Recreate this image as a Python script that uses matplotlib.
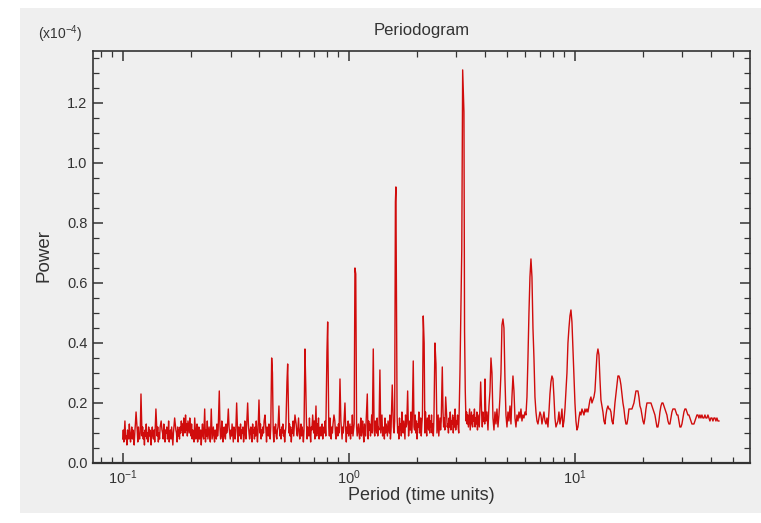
import numpy as np
import matplotlib.pyplot as plt
from matplotlib.patches import Rectangle
from matplotlib.ticker import MultipleLocator, LogLocator, NullFormatter, FormatStrFormatter

plt.rcParams['font.family'] = ['Liberation Sans', 'DejaVu Sans']
plt.rcParams['mathtext.fontset'] = 'custom'
plt.rcParams['mathtext.rm'] = 'Liberation Sans'
plt.rcParams['mathtext.it'] = 'Liberation Sans:italic'
plt.rcParams['mathtext.bf'] = 'Liberation Sans:bold'

# all powers are in units of 0.01 x 10^-4

# dense background band, log-evenly sampled from 0.1 to 4.0
noise_start, noise_end = 0.1, 4.0
noise_power = [
    8, 11, 7, 10, 12, 8, 9, 6, 11, 10, 8, 13, 9, 7, 10, 12, 8, 11, 9, 6, 10, 13, 8, 9, 11, 7, 12, 9, 8, 10,
    11, 7, 9, 12, 8, 10, 6, 11, 9, 13, 8, 10, 7, 12, 9, 11, 8, 6, 10, 12, 9, 8, 11, 7, 13, 10, 8, 9, 12, 7,
    10, 8, 12, 9, 6, 11, 10, 8, 13, 9, 7, 11, 10, 12, 8, 9, 14, 7, 10, 11, 8, 12, 9, 6, 10, 13, 9, 8, 11, 10,
    7, 12, 9, 11, 8, 12, 10, 14, 11, 13, 9, 15, 12, 10, 16, 11, 13, 9, 14, 12, 10, 15, 11, 9, 13, 8, 11, 10, 7, 12,
    9, 8, 11, 13, 7, 10, 12, 8, 9, 11, 6, 10, 13, 9, 8, 12, 10, 7, 11, 9, 14, 8, 10, 12, 9, 7, 11, 13, 8, 10,
    12, 9, 7, 11, 10, 8, 13, 9, 11, 6, 10, 12, 8, 9, 14, 10, 7, 11, 12, 9, 8, 13, 10, 11, 7, 9, 12, 10, 8, 11,
    9, 13, 10, 7, 12, 11, 8, 10, 14, 9, 11, 7, 12, 10, 9, 13, 8, 11, 10, 12, 7, 9, 14, 10, 8, 12, 11, 9, 13, 10,
    8, 11, 12, 9, 7, 13, 10, 11, 8, 12, 9, 14, 10, 7, 11, 12, 9, 10, 13, 8, 11, 9, 12, 10, 14, 8, 10, 11, 7, 12,
    10, 9, 13, 11, 8, 12, 10, 14, 9, 11, 7, 12, 10, 13, 9, 8, 11, 12, 10, 15, 9, 11, 8, 12, 10, 13, 9, 11, 7, 10,
    12, 9, 11, 14, 8, 10, 13, 9, 12, 7, 11, 10, 14, 9, 12, 8, 11, 13, 10, 9, 12, 15, 10, 8, 11, 13, 9, 12, 10, 7,
    11, 13, 9, 10, 14, 8, 12, 11, 9, 15, 10, 7, 12, 11, 13, 9, 10, 14, 8, 12, 11, 9, 13, 10, 15, 8, 11, 12, 9, 10,
    13, 8, 11, 12, 10, 14, 9, 11, 7, 13, 10, 12, 9, 15, 11, 8, 12, 10, 13, 9, 11, 14, 10, 8, 12, 11, 9, 13, 10, 12,
    9, 14, 11, 8, 12, 10, 13, 9, 15, 11, 7, 12, 10, 14, 9, 11, 13, 8, 12, 10, 16, 9, 11, 13, 10, 8, 14, 12, 9, 11,
    13, 10, 8, 12, 15, 9, 11, 14, 10, 7, 13, 11, 9, 15, 12, 10, 8, 14, 11, 13, 9, 12, 16, 10, 8, 13, 11, 9, 14, 12,
    10, 15, 9, 12, 11, 8, 14, 10, 13, 16, 9, 11, 12, 8, 15, 10, 13, 11, 9, 14, 12, 10, 16, 8, 11, 13, 9, 15, 12, 10,
    14, 11, 9, 13, 16, 10, 12, 8, 15, 11, 13, 9, 17, 12, 10, 14, 11, 8, 16, 12, 13, 10, 15, 9, 12, 14, 11, 17, 10, 13,
    9, 15, 12, 11, 16, 10, 14, 8, 13, 12, 17, 10, 11, 15, 9, 13, 16, 11, 12, 14, 10, 17, 12, 9, 15, 13, 11, 16, 10, 14,
    12, 16, 10, 13, 9, 15, 12, 17, 11, 14, 10, 13, 16, 9, 12, 15, 11, 14, 13, 10, 17, 12, 15, 11, 9, 14, 16, 12, 13, 10,
    15, 12, 17, 11, 14, 13, 16, 10, 15, 12, 18, 11, 14, 13, 16, 12, 10, 15, 17, 13, 11, 16, 14, 12, 18, 13, 15, 11, 14, 17,
    13, 16, 12, 15, 18, 11, 14, 17, 13, 12, 16, 14, 18, 12, 15, 13, 17, 11, 16, 14, 12, 18, 15, 13, 16, 12, 17, 14, 15, 13,
]

# narrow peaks sitting on the band
spike_period = [
    0.1023, 0.1146, 0.1205, 0.1403, 0.148, 0.1698, 0.2083, 0.2306, 0.2466, 0.2676,
    0.2934, 0.3194, 0.3573, 0.4010, 0.4262, 0.4563, 0.4600, 0.4914, 0.5333, 0.5371,
    0.5785, 0.6406, 0.6458, 0.6930, 0.7167, 0.8015, 0.8074, 0.8609, 0.9153, 0.9630,
    1.066, 1.075, 1.209, 1.285, 1.375, 1.559, 1.610, 1.618, 1.824, 1.931,
    2.138, 2.158, 2.409, 2.434, 2.596, 2.687, 3.108, 3.166, 3.195, 3.237,
    3.257, 3.281, 3.838,
]
spike_power = [
    14, 17, 23, 18, 14, 15, 15, 18, 18, 24,
    18, 20, 20, 21, 16, 35, 30, 19, 27, 33,
    16, 38, 26, 16, 19, 37, 47, 16, 28, 20,
    65, 63, 23, 38, 31, 26, 87, 92, 24, 34,
    49, 40, 40, 33, 32, 22, 30, 71, 131, 117,
    44, 24, 27,
]

# long-period part, log-evenly sampled from 4.01 to 43.5
tail_start, tail_end = 4.01, 43.5
tail_power = [
    28, 14, 17, 11, 19, 24, 35, 30, 15, 11,
    17, 13, 18, 12, 16, 22, 30, 46, 48, 45,
    28, 16, 12, 17, 14, 19, 13, 22, 29, 24,
    15, 12, 16, 14, 17, 15, 18, 14, 16, 15,
    17, 16, 22, 35, 50, 62, 68, 62, 45, 35,
    22, 17, 14, 13, 15, 17, 16, 13, 15, 17,
    14, 13, 15, 12, 17, 23, 27, 29, 28, 22,
    15, 12, 13, 14, 17, 13, 15, 18, 12, 14,
    18, 24, 30, 40, 45, 49, 51, 47, 38, 28,
    20, 14, 11, 12, 15, 17, 16, 18, 17, 16,
    18, 17, 18, 17, 19, 21, 22, 20, 21, 22,
    24, 30, 36, 38, 36, 28, 21, 19, 17, 14,
    13, 16, 18, 19, 18, 18, 17, 14, 13, 16,
    20, 23, 26, 29, 29, 28, 26, 23, 20, 18,
    15, 13, 13, 15, 18, 18, 18, 18, 19, 20,
    22, 24, 24, 24, 22, 19, 18, 16, 14, 13,
    15, 18, 20, 20, 20, 20, 20, 19, 18, 17,
    16, 14, 12, 12, 14, 17, 19, 20, 20, 19,
    18, 17, 16, 14, 13, 13, 15, 17, 18, 18,
    18, 17, 16, 16, 14, 12, 12, 13, 15, 17,
    18, 18, 17, 16, 16, 15, 14, 13, 13, 13,
    14, 15, 16, 16, 15, 16, 15, 16, 15, 15,
    16, 15, 15, 16, 15, 14, 15, 15, 14, 15,
    15, 14, 15, 14, 14,
]

noise_period = np.geomspace(noise_start, noise_end, len(noise_power))
tail_period = np.geomspace(tail_start, tail_end, len(tail_power))

# leave out band samples that sit right under a peak
dist = np.abs(np.log10(noise_period)[:, None] - np.log10(spike_period)[None, :])
keep = dist.min(axis=1) > 0.0028

period = np.concatenate([noise_period[keep], spike_period, tail_period])
power = np.concatenate([np.array(noise_power)[keep], spike_power, tail_power]) / 100.0
order = np.argsort(period)

W, H = 761, 523
fig = plt.figure(figsize=(W / 100, H / 100), dpi=100)
fig.patches.append(Rectangle((20 / W, 10 / H), 1 - 20 / W, 505 / H, transform=fig.transFigure,
                             facecolor='#efefef', edgecolor='none', zorder=-1))

ax = fig.add_axes([93 / W, 60 / H, 657 / W, 412 / H])
ax.set_facecolor('#efefef')
ax.plot(period[order], power[order], color='#d00c0c', lw=1.0)

ax.set_xscale('log')
ax.set_xlim(0.0739, 59.7)
ax.set_ylim(0, 1.373)
ax.yaxis.set_major_locator(MultipleLocator(0.2))
ax.yaxis.set_minor_locator(MultipleLocator(0.05))
ax.yaxis.set_major_formatter(FormatStrFormatter('%.1f'))
ax.xaxis.set_major_locator(LogLocator(base=10))
ax.xaxis.set_minor_locator(LogLocator(base=10, subs=np.arange(2, 10)))
ax.xaxis.set_minor_formatter(NullFormatter())

ax.tick_params(which='both', direction='in', top=True, right=True, color='#333333', labelcolor='#333333')
ax.tick_params(which='major', length=7, width=1.1, labelsize=10.5)
ax.tick_params(which='minor', length=4.5, width=0.9)
ax.tick_params(axis='x', which='major', pad=4)
ax.tick_params(axis='y', which='major', pad=4)
for s in ax.spines.values():
    s.set_color('#333333')
    s.set_linewidth(1.2)
ax.spines['bottom'].set_linewidth(1.6)

fig.text(421.5 / W, 1 - 30 / H, 'Periodogram', ha='center', va='center', fontsize=12, color='#333333')
fig.text(38 / W, 1 - 34 / H, r'(x10$^{-4}$)', ha='left', va='center', fontsize=10, color='#333333')
fig.text(421.5 / W, 1 - 496 / H, 'Period (time units)', ha='center', va='center', fontsize=13, color='#333333')
fig.text(44 / W, 1 - 256 / H, 'Power', ha='center', va='center', rotation=90, fontsize=13.5, color='#333333')

fig.savefig('out.png', dpi=100)
